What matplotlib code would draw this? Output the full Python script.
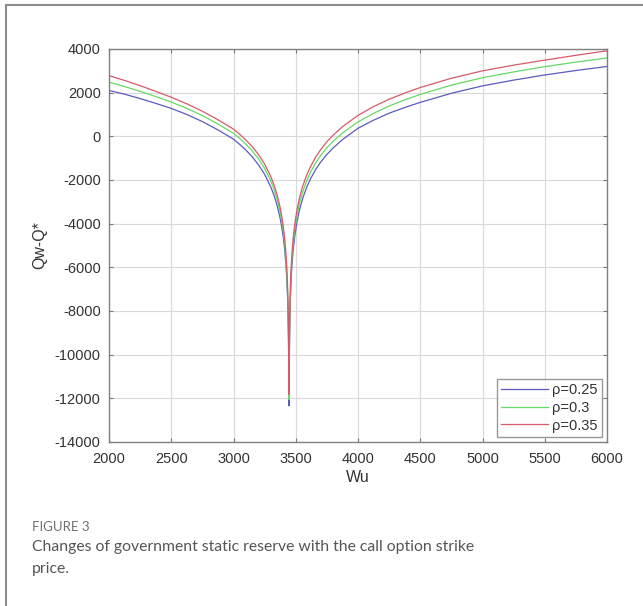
import numpy as np
import matplotlib
matplotlib.use("Agg")
import matplotlib.pyplot as plt
from matplotlib.lines import Line2D

# strike price Wu and the reserve gap Qw-Q* for three rho values
wu = [2000, 2125, 2250, 2375, 2500, 2625, 2750, 2875, 3000, 3050, 3100, 3150, 3200,
      3250, 3300, 3325, 3350, 3370, 3385, 3400, 3410, 3420, 3428, 3434, 3438, 3441,
      3443, 3445, 3446,
      3447, 3448, 3450, 3453, 3457, 3462, 3470, 3480, 3494, 3510, 3530, 3555, 3588,
      3620, 3660, 3700, 3750, 3800, 3875, 4000, 4125, 4250, 4375, 4500, 4750, 5000,
      5250, 5500, 5750, 6000]

gap_025 = [2100, 1930, 1730, 1510, 1280, 1000, 675, 295, -130, -370, -632, -935, -1298,
           -1740, -2325, -2698, -3160, -3625, -4070, -4630, -5120, -5773, -6515, -7335, -8155, -9100,
           -10123, -11322, -12348,
           -12210, -10830, -9442, -8323, -7425, -6666, -5858, -5170, -4483, -3916, -3370, -2853, -2328,
           -1932, -1517, -1182, -828, -534, -152, 370, 740, 1060, 1320, 1556, 1972, 2310,
           2575, 2810, 3015, 3200]

gap_030 = [2480, 2280, 2060, 1820, 1570, 1280, 950, 565, 140, -100, -360, -665, -1025,
           -1470, -2050, -2425, -2885, -3350, -3790, -4345, -4840, -5490, -6235, -7050, -7865, -8810,
           -9830, -11030, -12050,
           -11912, -10535, -9145, -8030, -7130, -6370, -5565, -4875, -4190, -3620, -3075, -2555, -2030,
           -1630, -1215, -880, -525, -230, 150, 660, 1055, 1390, 1670, 1920, 2345, 2685,
           2950, 3190, 3400, 3588]

gap_035 = [2780, 2560, 2320, 2060, 1790, 1490, 1150, 760, 330, 90, -170, -470, -830,
           -1270, -1850, -2220, -2680, -3140, -3580, -4135, -4625, -5275, -6015, -6830, -7640, -8585,
           -9605, -10800, -11818,
           -11680, -10300, -8910, -7790, -6890, -6130, -5320, -4630, -3940, -3370, -2820, -2300, -1770,
           -1370, -950, -610, -250, 50, 440, 960, 1360, 1700, 1980, 2236, 2660, 3000,
           3260, 3490, 3710, 3918]

labels = ["ρ=0.25", "ρ=0.3", "ρ=0.35"]
colors = ["#5b5bbf", "#66d966", "#d65a6a"]

xticks = [2000, 2500, 3000, 3500, 4000, 4500, 5000, 5500, 6000]
yticks = [4000, 2000, 0, -2000, -4000, -6000, -8000, -10000, -12000, -14000]

plt.rcParams["font.family"] = ["Liberation Sans", "DejaVu Sans"]
plt.rcParams["axes.unicode_minus"] = False

fig = plt.figure(figsize=(6.43, 6.06), dpi=100)
fig.patch.set_facecolor("white")

ax = fig.add_axes([109 / 643, 1 - 442 / 606, 498 / 643, 393 / 606])
for series, lab, col in zip([gap_025, gap_030, gap_035], labels, colors):
    ax.plot(wu, series, color=col, lw=0.9, label=lab)

ax.set_xlim(2000, 6000)
ax.set_ylim(-14000, 4000)
ax.set_xticks(xticks)
ax.set_yticks(yticks)
ax.grid(True, color="#d9d9d9", lw=0.8)
ax.set_axisbelow(True)
ax.tick_params(direction="in", length=3, width=0.8, color="#777777",
               top=True, right=True, labelsize=10.5, labelcolor="#333333")
ax.tick_params(axis="x", pad=7)
ax.tick_params(axis="y", pad=6)
for sp in ax.spines.values():
    sp.set_color("#808080")
    sp.set_linewidth(1.0)

ax.set_xlabel("Wu", fontsize=11.5, color="#333333", labelpad=3)
ax.set_ylabel("Qw-Q*", fontsize=11.5, color="#333333", labelpad=5)

leg = ax.legend(loc="lower right", fontsize=10.5, frameon=True, fancybox=False,
                borderaxespad=0.35, handlelength=3.2, handletextpad=0.3,
                labelspacing=0.25, borderpad=0.3, labelcolor="#333333")
leg.get_frame().set_edgecolor("#808080")
leg.get_frame().set_linewidth(1.0)

# outer frame on top and left
fig.add_artist(Line2D([6 / 643, 1], [1 - 5 / 606, 1 - 5 / 606], color="#8c8c8c", lw=1.5))
fig.add_artist(Line2D([6 / 643, 6 / 643], [0, 1 - 5 / 606], color="#8c8c8c", lw=1.5))

cap_font = ["Lato", "DejaVu Sans"]
fig.text(32 / 643, 1 - 527 / 606, "FIGURE 3", fontsize=9.5, color="#707070",
         family=cap_font, va="center")
fig.text(32 / 643, 1 - 547 / 606, "Changes of government static reserve with the call option strike",
         fontsize=11.3, color="#555555", family=cap_font, va="center")
fig.text(32 / 643, 1 - 569 / 606, "price.", fontsize=11.3, color="#555555",
         family=cap_font, va="center")

fig.savefig("out.png", dpi=100)
